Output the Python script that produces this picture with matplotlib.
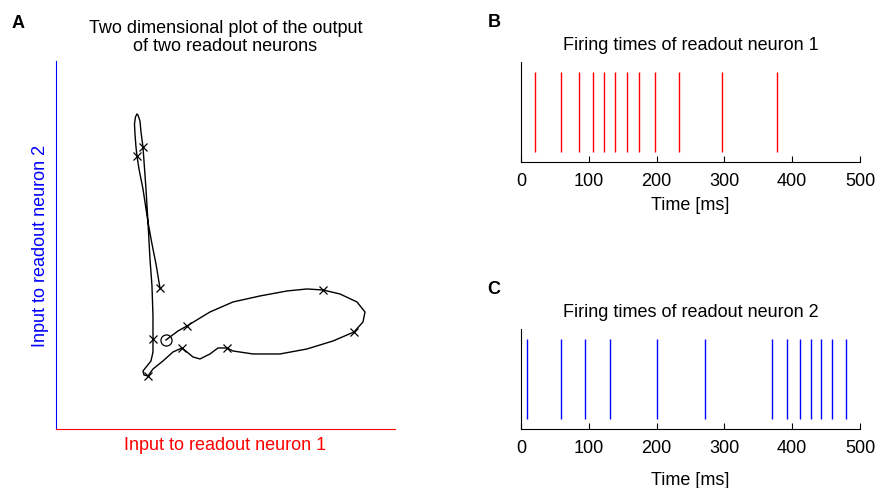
import matplotlib

matplotlib.use("Agg")
import matplotlib.pyplot as plt

plt.rcParams["font.family"] = ["Liberation Sans", "DejaVu Sans"]
plt.rcParams["font.size"] = 13
plt.rcParams["axes.titlesize"] = 13

# trajectory of the two readout inputs (arbitrary units), 0..500 ms
traj_x = [110, 122, 131, 154, 177, 204, 231, 251, 267, 284, 301, 309, 307, 298,
          277, 251, 224, 197, 177, 171, 162, 154, 144, 137, 131, 126, 117, 107,
          97, 92, 88, 87, 91, 95, 97, 97, 97, 96, 94, 92, 90, 87, 85, 84, 82,
          81, 79.5, 78.5, 79, 80, 81, 83, 87, 92, 96, 100, 104]
traj_y = [89, 98, 103, 117, 127, 133, 138, 140, 139, 135, 127, 117, 107, 97,
          88, 80, 75, 75, 78, 81, 81, 75, 70, 72, 77, 81, 77, 68, 60, 53, 54,
          58, 63, 68, 77, 90, 113, 143, 170, 207, 240, 282, 297, 308, 314, 315,
          312, 305, 295, 282, 273, 260, 240, 207, 185, 165, 141]
# samples every 50 ms
tick_idx = [2, 8, 13, 19, 25, 29, 35, 41, 50, 56]

spikes_1 = [20, 59, 86, 106, 123, 139, 156, 174, 197, 233, 297, 378]
spikes_2 = [9, 59, 94, 131, 200, 272, 370, 393, 412, 428, 443, 459, 479]

fig = plt.figure(figsize=(8.76, 4.89), dpi=100)

# panel A
ax = fig.add_axes([0.0639, 0.1207, 0.387, 0.7526])
ax.plot(traj_x, traj_y, color="black", lw=1.0, marker="x", ms=6, mew=0.9,
        markevery=tick_idx)
ax.plot(traj_x[0], traj_y[0], marker="o", ms=8, mfc="none", mec="black", mew=0.9)
ax.set_xlim(0, 339)
ax.set_ylim(0, 368)
ax.set_xticks([])
ax.set_yticks([])
ax.spines["top"].set_visible(False)
ax.spines["right"].set_visible(False)
ax.spines["left"].set_color("blue")
ax.spines["bottom"].set_color("red")
ax.set_xlabel("Input to readout neuron 1", color="red", labelpad=5)
ax.set_ylabel("Input to readout neuron 2", color="blue", labelpad=5)
ax.set_title("Two dimensional plot of the output\nof two readout neurons",
             pad=8, linespacing=1.05)
fig.text(0.0205, 0.951, "A", fontsize=13, fontweight="bold",
         ha="center", va="center")


def raster(rect, times, color, title, letter, letter_y, xpad):
    ax = fig.add_axes(rect)
    ax.vlines(times, 0.1, 0.9, color=color, lw=1.0)
    ax.set_xlim(0, 500)
    ax.set_ylim(0, 1)
    ax.set_xticks([0, 100, 200, 300, 400, 500])
    ax.set_yticks([])
    ax.tick_params(axis="x", direction="in", length=4, pad=7)
    ax.spines["top"].set_visible(False)
    ax.spines["right"].set_visible(False)
    ax.set_xlabel("Time [ms]", labelpad=xpad)
    ax.set_title(title, pad=9)
    fig.text(0.564, letter_y, letter, fontsize=13, fontweight="bold",
             ha="center", va="center")
    return ax


raster([0.5947, 0.6667, 0.387, 0.2045], spikes_1, "red",
       "Firing times of readout neuron 1", "B", 0.955, 5.5)
raster([0.5947, 0.1207, 0.387, 0.2045], spikes_2, "blue",
       "Firing times of readout neuron 2", "C", 0.407, 11)

fig.savefig("out.png", dpi=100)
